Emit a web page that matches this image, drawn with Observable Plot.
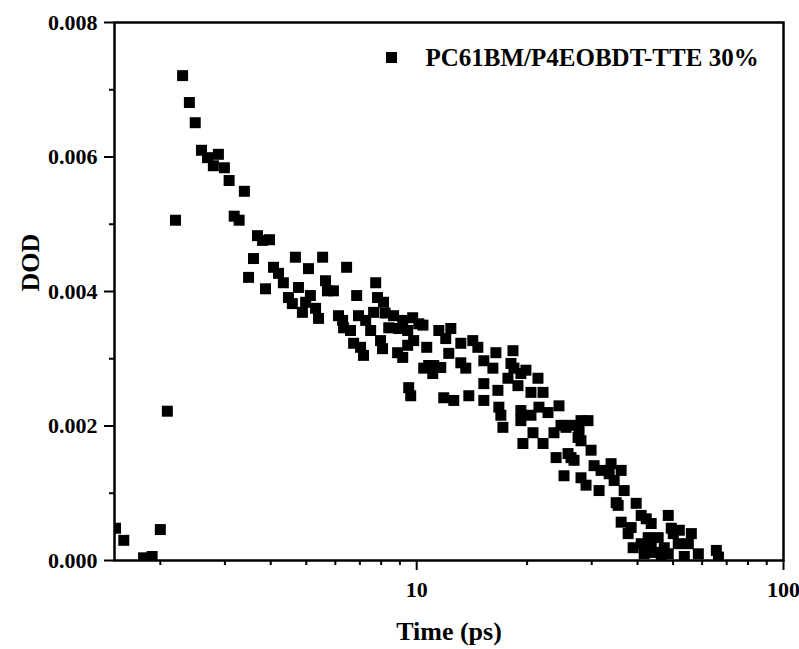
<!DOCTYPE html>
<html><head><meta charset="utf-8">
<script src="https://cdn.jsdelivr.net/npm/d3@7"></script>
<script src="https://cdn.jsdelivr.net/npm/@observablehq/plot@0.6"></script>
<style>body{margin:0;background:#fff} svg{display:block}</style>
</head><body><div id="chart"></div>
<script>
const timePs = [
  1.51, 1.59, 1.80, 1.90, 2.00, 2.09, 2.20, 2.30, 2.40, 2.49,
  2.59, 2.69, 2.79, 2.88, 2.99, 3.08, 3.18, 3.28, 3.39, 3.48,
  3.59, 3.68, 3.80, 3.87, 3.97, 4.07, 4.20, 4.33, 4.47, 4.58,
  4.67, 4.76, 4.88, 4.98, 5.07, 5.13, 5.30, 5.40, 5.54, 5.64,
  5.71, 5.93, 6.12, 6.28, 6.32, 6.44, 6.60, 6.73, 6.86, 6.94,
  7.03, 7.16, 7.26, 7.49, 7.63, 7.73, 7.82, 7.97, 8.07, 8.12,
  8.20, 8.39, 8.65, 8.87, 8.93, 9.16, 9.16, 9.45, 9.45, 9.51,
  9.63, 9.75, 9.81, 10.13, 10.40, 10.45, 10.65, 10.78, 11.06, 11.13,
  11.49, 11.63, 11.85, 12.00, 12.23, 12.39, 12.62, 13.19, 13.19, 13.61,
  13.87, 14.22, 14.68, 15.24, 15.24, 15.24, 16.13, 16.44, 16.65, 16.75,
  16.96, 17.18, 17.73, 18.07, 18.30, 18.41, 18.88, 19.23, 19.23, 19.23,
  19.48, 19.85, 20.49, 20.49, 20.75, 21.41, 21.54, 22.10, 22.10, 22.80,
  23.67, 23.99, 24.43, 24.74, 25.21, 25.53, 25.86, 26.35, 26.35, 26.85,
  27.54, 27.71, 28.05, 28.05, 28.05, 28.95, 29.31, 29.88, 30.45, 31.42,
  31.82, 33.47, 33.88, 34.54, 34.98, 35.42, 36.09, 36.09, 36.78, 37.71,
  38.43, 38.91, 39.66, 40.93, 40.93, 41.71, 42.24, 42.77, 43.58, 43.58,
  44.41, 45.54, 46.42, 47.31, 48.51, 48.51, 49.43, 50.06, 51.65, 51.99,
  53.65, 55.02, 56.07, 58.59, 65.6, 66.5
];
const dod = [
  0.00048, 0.00030, 0.00004, 0.00006, 0.00046, 0.00222, 0.00506, 0.00721, 0.00681, 0.00651,
  0.00610, 0.00599, 0.00587, 0.00604, 0.00584, 0.00565, 0.00512, 0.00506, 0.00549, 0.00421,
  0.00449, 0.00483, 0.00476, 0.00404, 0.00477, 0.00436, 0.00427, 0.00413, 0.00391, 0.00382,
  0.00451, 0.00406, 0.00369, 0.00384, 0.00434, 0.00394, 0.00375, 0.00360, 0.00451, 0.00416,
  0.00401, 0.00401, 0.00364, 0.00357, 0.00346, 0.00436, 0.00342, 0.00323, 0.00394, 0.00364,
  0.00317, 0.00305, 0.00357, 0.00342, 0.00369, 0.00413, 0.00391, 0.00327, 0.00315, 0.00384,
  0.00368, 0.00346, 0.00364, 0.00309, 0.00345, 0.00302, 0.00357, 0.00342, 0.00320, 0.00257,
  0.00245, 0.00361, 0.00327, 0.00352, 0.00350, 0.00286, 0.00317, 0.00290, 0.00278, 0.00290,
  0.00342, 0.00287, 0.00242, 0.00330, 0.00308, 0.00345, 0.00238, 0.00323, 0.00294, 0.00286,
  0.00245, 0.00327, 0.00317, 0.00297, 0.00263, 0.00238, 0.00286, 0.00309, 0.00253, 0.00228,
  0.00216, 0.00198, 0.00271, 0.00293, 0.00312, 0.00286, 0.00260, 0.00278, 0.00223, 0.00208,
  0.00174, 0.00283, 0.00250, 0.00216, 0.00190, 0.00271, 0.00228, 0.00250, 0.00174, 0.00220,
  0.00190, 0.00153, 0.00230, 0.00201, 0.00126, 0.00198, 0.00159, 0.00201, 0.00153, 0.00149,
  0.00183, 0.00193, 0.00208, 0.00178, 0.00123, 0.00112, 0.00208, 0.00164, 0.00141, 0.00104,
  0.00134, 0.00129, 0.00144, 0.00119, 0.00086, 0.00082, 0.00134, 0.00057, 0.00104, 0.00040,
  0.00049, 0.00019, 0.00085, 0.00067, 0.00025, 0.00010, 0.00062, 0.00034, 0.00055, 0.00022,
  0.00012, 0.00034, 0.00006, 0.00019, 0.00067, 0.00010, 0.00048, 0.00040, 0.00025, 0.00045,
  0.00006, 0.00025, 0.00040, 0.00010, 0.00015, 0.00005
];
const xMajorTicks = [10, 100];
const xMinorTicks = [2, 3, 4, 5, 6, 7, 8, 9, 20, 30, 40, 50, 60, 70, 80, 90];
const yMajorTicks = [0, 0.002, 0.004, 0.006, 0.008];
const yMinorTicks = [0.001, 0.003, 0.005, 0.007];
const seriesName = "PC61BM/P4EOBDT-TTE 30%";
const xLabel = "Time (ps)";
const yLabel = "DOD";

const data = timePs.map((t, i) => ({t, v: dod[i]}));

const chart = Plot.plot({
  width: 799, height: 649,
  marginLeft: 114, marginRight: 16, marginTop: 22, marginBottom: 89,
  style: {fontFamily: "'Liberation Serif', 'Times New Roman', serif", fontWeight: "bold", fontSize: "22px", color: "#000", background: "#fff", overflow: "visible"},
  x: {type: "log", domain: [1.5, 100]},
  y: {domain: [0, 0.008]},
  marks: [
    Plot.dot(data, {x: "t", y: "v", symbol: "square", r: 6.2, fill: "#000", stroke: null, clip: true}),
    Plot.axisX(xMinorTicks, {tickSize: 5, strokeWidth: 2, tickFormat: () => "", label: null}),
    Plot.axisX(xMajorTicks, {tickSize: 10, tickPadding: 11, strokeWidth: 2, tickFormat: d3.format("d"), label: null, fontSize: 22}),
    Plot.axisY(yMinorTicks, {tickSize: 5, strokeWidth: 2, tickFormat: () => "", label: null}),
    Plot.axisY(yMajorTicks, {tickSize: 10, tickPadding: 7, strokeWidth: 2, tickFormat: d3.format(".3f"), label: null, fontSize: 22}),
    Plot.frame({stroke: "#000", strokeWidth: 2.5}),
    Plot.text([xLabel], {text: d => d, frameAnchor: "bottom", dy: 79, lineAnchor: "bottom", fontSize: 26, fontWeight: "bold"}),
    Plot.text([yLabel], {text: d => d, frameAnchor: "left", dx: -76, rotate: -90, lineAnchor: "bottom", fontSize: 26, fontWeight: "bold"}),
    Plot.dot([seriesName], {frameAnchor: "top-left", dx: 277, dy: 35, symbol: "square", r: 6.2, fill: "#000", stroke: null}),
    Plot.text([seriesName], {text: d => d, frameAnchor: "top-left", dx: 311, dy: 43, textAnchor: "start", lineAnchor: "bottom", fontSize: 25, fontWeight: "bold"})
  ]
});
document.getElementById("chart").appendChild(chart);
</script>
</body></html>
